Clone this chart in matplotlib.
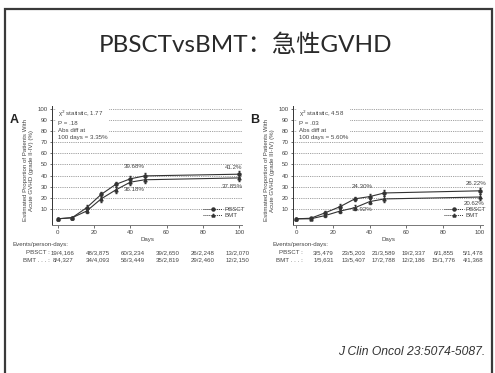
import matplotlib.pyplot as plt
import numpy as np
from matplotlib.patches import Rectangle
from matplotlib.lines import Line2D

# ---- data ----
days = [0, 8, 16, 24, 32, 40, 48, 100]

a_pbsct = [1, 2, 11, 23, 32, 37, 39.68, 41.2]
a_bmt = [1, 2, 8, 19, 27, 34, 36.18, 37.85]
a_pbsct_err = [0.5, 1, 2, 2.5, 2.5, 2.5, 2.5, 2.5]
a_bmt_err = [0.5, 1, 2, 2.5, 2.5, 2.5, 2.5, 2.5]

b_pbsct = [1, 1.5, 6.5, 12, 19, 21, 24.30, 26.22]
b_bmt = [1, 1, 4, 8, 11, 16.5, 18.92, 20.62]
b_pbsct_err = [0.5, 0.5, 1.5, 2, 2, 2, 2.5, 2.5]
b_bmt_err = [0.5, 0.5, 1.5, 2, 2, 2, 2.5, 2.5]

a_stats = ["\u03c7$^2$ statistic, 1.77", "P = .18", "Abs diff at", "100 days = 3.35%"]
b_stats = ["\u03c7$^2$ statistic, 4.58", "P = .03", "Abs diff at", "100 days = 5.60%"]

a_events_pbsct = ["19/4,166", "48/3,875", "60/3,234", "39/2,650", "26/2,248", "13/2,070"]
a_events_bmt = ["8/4,327", "34/4,093", "56/3,449", "35/2,819", "29/2,460", "12/2,150"]
b_events_pbsct = ["3/5,479", "23/5,203", "21/3,589", "19/2,337", "6/1,855", "5/1,478"]
b_events_bmt = ["1/5,631", "13/5,407", "17/2,788", "12/2,186", "15/1,776", "4/1,368"]

xticks = [0, 20, 40, 60, 80, 100]
yticks = [10, 20, 30, 40, 50, 60, 70, 80, 90, 100]

TXT = "#444444"
LINE = "#333333"
FS = 4.4

plt.rcParams['font.family'] = ['Liberation Sans', 'DejaVu Sans']

fig = plt.figure(figsize=(4.95, 3.73), dpi=100)

# slide frame
fig.patches.append(Rectangle((5 / 495, -0.05), 487 / 495, 1.026,
                             transform=fig.transFigure, fill=False,
                             edgecolor="#3a3a3a", linewidth=1.6))

fig.text(0.495, 1 - 45 / 373, "PBSCTvsBMT：急性GVHD", ha="center", va="center",
         fontsize=17.5, color="#2a2a2a", family=['Lato', 'Noto Sans CJK SC'])

fig.text(485 / 495, 1 - 352 / 373, "J Clin Oncol 23:5074-5087.", ha="right",
         va="center", fontsize=8.7, style="italic", color="#333333")


def panel(ax, letter, pb, bm, pb_err, bm_err, stats, ylab, xlim, pct, ev_pb, ev_bm,
          ev_x, ev_head_x, ev_lab_x):
    ax.set_xlim(*xlim)
    ax.set_ylim(-4.5, 102.7)
    for y in yticks:
        ax.axhline(y, color="#808080", lw=0.6, ls=(0, (1, 1.2)), zorder=0)
    ax.errorbar(days, pb, yerr=pb_err, color=LINE, lw=0.8, marker="o", ms=2.2,
                capsize=0.8, elinewidth=0.6, zorder=3)
    ax.errorbar(days, bm, yerr=bm_err, color=LINE, lw=0.8, marker="^", ms=2.2,
                capsize=0.8, elinewidth=0.6, zorder=3)

    ax.spines['top'].set_visible(False)
    ax.spines['right'].set_visible(False)
    ax.spines['left'].set_color(LINE)
    ax.spines['left'].set_linewidth(0.7)
    ax.spines['bottom'].set_color("#777777")
    ax.spines['bottom'].set_linestyle((0, (2, 1)))
    ax.spines['bottom'].set_linewidth(0.7)
    ax.set_xticks(xticks)
    ax.set_yticks(yticks)
    ax.tick_params(labelsize=FS, labelcolor=TXT, color=LINE, length=1.8, width=0.5, pad=1.5)
    ax.set_xlabel("Days", fontsize=FS, color=TXT, labelpad=1.5)

    ax.text(-0.125, 0.46, "Estimated Proportion of Patients With\n" + ylab,
            transform=ax.transAxes, rotation=90, ha="center", va="center",
            fontsize=FS, color=TXT, linespacing=1.2)
    ax.text(-0.2, 0.88, letter, transform=ax.transAxes, fontsize=9,
            fontweight="bold", color="#222222", ha="center", va="center")

    ax.text(0.03, 0.975, "\n".join(stats), transform=ax.transAxes, ha="left", va="top",
            fontsize=FS, color=TXT, linespacing=1.45,
            bbox=dict(facecolor="white", edgecolor="none", pad=1.5), zorder=4)

    for (x, y, s) in pct:
        ax.text(x, y, s, fontsize=FS, color=TXT, ha="center", va="center")

    handles = [Line2D([], [], color=LINE, lw=0.7, ls=(0, (1, 1)), marker="o", ms=2.2),
               Line2D([], [], color=LINE, lw=0.7, ls=(0, (1, 1)), marker="^", ms=2.2)]
    ax.legend(handles, ["PBSCT", "BMT"], loc="lower right", bbox_to_anchor=(1.03, 0.03),
              fontsize=FS, frameon=False, handlelength=3.2, labelspacing=0.15,
              borderpad=0, handletextpad=0.3, labelcolor=TXT)

    tr = ax.transAxes
    ax.text(ev_head_x, -0.165, "Events/person-days:", transform=tr, fontsize=FS,
            color=TXT, ha="left", va="center")
    ax.text(ev_lab_x, -0.235, "PBSCT :", transform=tr, fontsize=FS, color=TXT,
            ha="right", va="center")
    ax.text(ev_lab_x, -0.295, "BMT . . . :", transform=tr, fontsize=FS, color=TXT,
            ha="right", va="center")
    for x, s1, s2 in zip(ev_x, ev_pb, ev_bm):
        ax.text(x, -0.235, s1, transform=tr, fontsize=FS, color=TXT, ha="center", va="center")
        ax.text(x, -0.295, s2, transform=tr, fontsize=FS, color=TXT, ha="center", va="center")


axA = fig.add_axes([0.105, 0.397, 0.384, 0.319])
axB = fig.add_axes([0.592, 0.397, 0.384, 0.319])

panel(axA, "A", a_pbsct, a_bmt, a_pbsct_err, a_bmt_err, a_stats,
      "Acute GVHD (grade II-IV) (%)", (-3.1, 101.6),
      [(42, 48.5, "39.68%"), (42, 27, "36.18%"), (97, 47.5, "41.2%"), (96, 30, "37.85%")],
      a_events_pbsct, a_events_bmt, np.linspace(0.058, 0.974, 6), -0.21, -0.01)

panel(axB, "B", b_pbsct, b_bmt, b_pbsct_err, b_bmt_err, b_stats,
      "Acute GVHD (grade III-IV) (%)", (-1.6, 101.7),
      [(36, 30, "24.30%"), (36, 9.5, "18.92%"), (98, 33, "26.22%"), (97, 15, "20.62%")],
      b_events_pbsct, b_events_bmt, np.linspace(0.16, 0.95, 6), -0.11, 0.053)

fig.savefig("out.png", dpi=100)
